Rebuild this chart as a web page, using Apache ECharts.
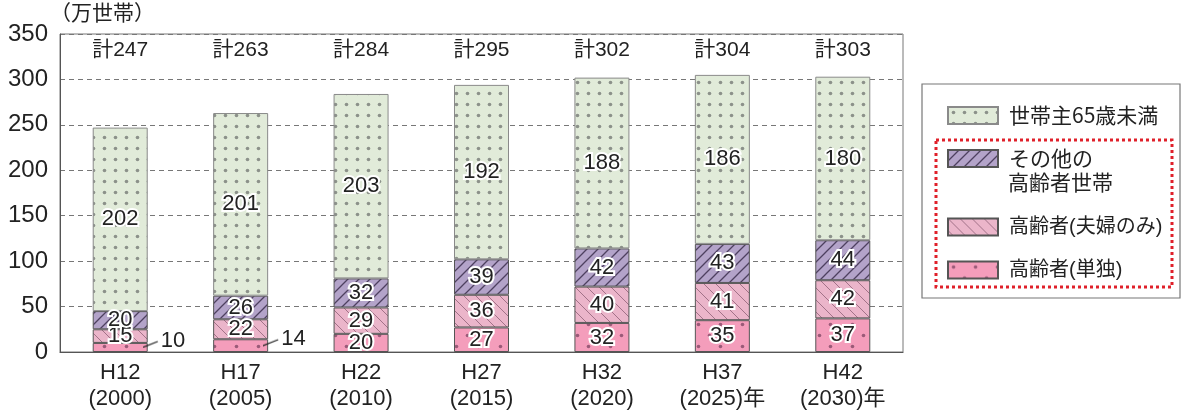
<!DOCTYPE html>
<html>
<head>
<meta charset="utf-8">
<script src="https://cdn.jsdelivr.net/npm/echarts@6/dist/echarts.min.js"></script>
<style>
  html, body { margin: 0; padding: 0; background: #fff; }
  #chart { width: 1187px; height: 414px; }
</style>
</head>
<body>
<div id="chart"></div>
<script>
const years = ['H12\n(2000)', 'H17\n(2005)', 'H22\n(2010)', 'H27\n(2015)', 'H32\n(2020)', 'H37\n(2025)年', 'H42\n(2030)年'];
const single = [10, 14, 20, 27, 32, 35, 37];
const couple = [15, 22, 29, 36, 40, 41, 42];
const otherElderly = [20, 26, 32, 39, 42, 43, 44];
const under65 = [202, 201, 203, 192, 188, 186, 180];
const totals = [247, 263, 284, 295, 302, 304, 303];
const yTicks = [0, 50, 100, 150, 200, 250, 300, 350];

const names = ['高齢者(単独)', '高齢者(夫婦のみ)', 'その他の高齢者世帯', '世帯主65歳未満'];
const FONT = '"Liberation Sans", "Noto Sans CJK JP", sans-serif';
const JP = '"Noto Sans CJK JP", sans-serif';

// fill patterns drawn on small canvases
function pattern(bg, kind, fg, size) {
  const c = document.createElement('canvas');
  c.width = size; c.height = size;
  const g = c.getContext('2d');
  g.fillStyle = bg;
  g.fillRect(0, 0, size, size);
  g.fillStyle = fg;
  g.strokeStyle = fg;
  if (kind === 'dots') {
    g.beginPath(); g.arc(size / 2, size / 2, 1.8, 0, Math.PI * 2); g.fill();
  } else if (kind === 'dots2') {
    g.beginPath(); g.arc(size * 0.25, size * 0.25, 1.8, 0, Math.PI * 2); g.fill();
    g.beginPath(); g.arc(size * 0.75, size * 0.75, 1.8, 0, Math.PI * 2); g.fill();
  } else if (kind === 'fwd') {
    g.lineWidth = 1.3;
    g.beginPath();
    g.moveTo(0, size); g.lineTo(size, 0);
    g.moveTo(-2, 2); g.lineTo(2, -2);
    g.moveTo(size - 2, size + 2); g.lineTo(size + 2, size - 2);
    g.stroke();
  } else if (kind === 'back') {
    g.lineWidth = 0.9;
    g.beginPath();
    g.moveTo(0, 0); g.lineTo(size, size);
    g.moveTo(size - 2, -2); g.lineTo(size + 2, 2);
    g.moveTo(-2, size - 2); g.lineTo(2, size + 2);
    g.stroke();
  }
  return { image: c, repeat: 'repeat' };
}

// short diagonal leader line used in front of the outside labels
function leader() {
  const c = document.createElement('canvas');
  c.width = 16; c.height = 16;
  const g = c.getContext('2d');
  g.strokeStyle = '#222';
  g.lineWidth = 1.2;
  g.beginPath(); g.moveTo(0, 15); g.lineTo(15, 9); g.stroke();
  return c;
}

const fills = [
  pattern('#f49dbb', 'dots2', '#9a5a78', 22),
  pattern('#ebb5ca', 'back', '#9a6a80', 12),
  pattern('#b3a3c9', 'fwd', '#4e4060', 11),
  pattern('#e1ebd9', 'dots', '#8c918a', 11)
];
const borders = ['#555', '#555', '#555', '#8a8a8a'];
const values = [single, couple, otherElderly, under65];

const valueLabel = {
  show: true,
  position: 'inside',
  fontFamily: FONT,
  fontSize: 22,
  color: '#222',
  textBorderColor: '#fff',
  textBorderWidth: 4
};

const lead = leader();
const series = values.map((vals, i) => ({
  name: names[i],
  type: 'bar',
  stack: 'total',
  barWidth: 55,
  itemStyle: { color: fills[i], borderColor: borders[i], borderWidth: 1 },
  label: valueLabel,
  data: vals.map((v, j) => {
    // the two smallest single-household values sit beside the bar
    if (i === 0 && (j === 0 || j === 1)) {
      return {
        value: v,
        label: {
          position: 'right',
          distance: -5,
          offset: [0, -7],
          textBorderWidth: 0,
          formatter: '{l|}{v|{c}}',
          rich: {
            l: { width: 16, height: 16, backgroundColor: { image: lead } },
            v: { fontFamily: FONT, fontSize: 22, color: '#222', padding: [0, 0, 0, 2] }
          }
        }
      };
    }
    return v;
  })
}));

const chart = echarts.init(document.getElementById('chart'));

const legendPos = [
  { name: names[3], top: 105, font: JP, size: 21 },
  { name: names[2], top: 148, font: JP, size: 21 },
  { name: names[1], top: 217, font: FONT, size: 20 },
  { name: names[0], top: 260, font: FONT, size: 20 }
];

chart.setOption({
  animation: false,
  grid: { left: 60, right: 284, top: 34, bottom: 62, show: true, borderColor: '#777', borderWidth: 1 },
  xAxis: [
    {
      type: 'category',
      data: years,
      axisTick: { show: false },
      axisLine: { lineStyle: { color: '#555', width: 1.2 } },
      axisLabel: { color: '#222', fontFamily: FONT, fontSize: 22, lineHeight: 26, margin: 8 }
    },
    {
      type: 'category',
      position: 'top',
      data: totals.map(t => '計' + t),
      axisTick: { show: false },
      axisLine: { show: false },
      axisLabel: { inside: true, color: '#222', fontFamily: FONT, fontSize: 21, margin: 6 }
    }
  ],
  yAxis: {
    type: 'value',
    min: yTicks[0],
    max: yTicks[yTicks.length - 1],
    interval: 50,
    name: '（万世帯）',
    nameLocation: 'end',
    nameGap: 8,
    nameTextStyle: { align: 'left', fontFamily: JP, fontSize: 21, color: '#222', padding: [0, 0, 0, -10] },
    axisLine: { show: true, lineStyle: { color: '#555' } },
    axisTick: { show: false },
    axisLabel: { color: '#222', fontFamily: FONT, fontSize: 24, margin: 12 },
    splitLine: { lineStyle: { color: '#777', type: [5, 4], width: 1 } }
  },
  legend: legendPos.map(l => ({
    data: [l.name],
    left: 947,
    top: l.top,
    padding: 0,
    selectedMode: false,
    icon: 'rect',
    itemWidth: 50,
    itemHeight: 17,
    formatter: n => (n === names[2] ? 'その他の' : n),
    textStyle: { fontFamily: l.font, fontSize: l.size, color: '#222', padding: [0, 0, 0, 6] }
  })),
  graphic: [
    {
      type: 'rect',
      shape: { x: 922, y: 84, width: 258, height: 214 },
      style: { fill: 'none', stroke: '#777', lineWidth: 1.2 },
      silent: true
    },
    {
      type: 'rect',
      shape: { x: 936, y: 140, width: 236, height: 147 },
      style: { fill: 'none', stroke: '#e0202a', lineWidth: 3, lineDash: [3, 3] },
      silent: true
    },
    {
      type: 'text',
      left: 1008,
      top: 172,
      style: { text: '高齢者世帯', font: '21px "Noto Sans CJK JP", sans-serif', fill: '#222' },
      silent: true
    }
  ],
  series: series
});
</script>
</body>
</html>
